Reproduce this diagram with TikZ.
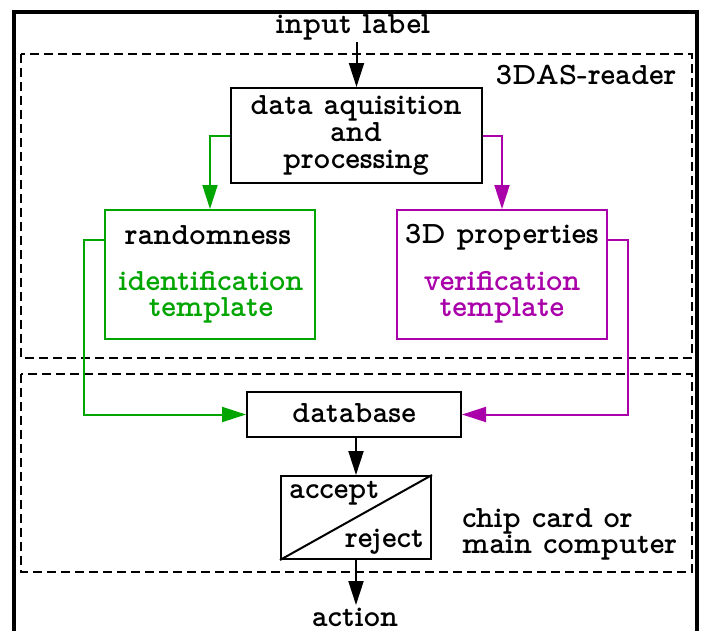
\documentclass[tikz,border=0pt]{standalone}
\usepackage{fontspec}
\newfontfamily\vttfont{lmmonoproplt10-bold.otf}
\usetikzlibrary{arrows.meta}
\definecolor{grn}{RGB}{0,165,0}
\definecolor{mag}{RGB}{170,0,170}
\tikzset{
  box/.style={draw, rectangle, line width=2pt, inner sep=0pt},
  txt/.style={inner sep=0pt, anchor=base},
  arr/.style={line width=2pt, -{Triangle[length=24pt,width=15pt]}},
  dbox/.style={draw, line width=2pt, dash pattern=on 9pt off 5pt},
}
\begin{document}
\begin{tikzpicture}[x=1pt,y=-1pt,font={\vttfont\fontsize{31}{32}\selectfont}]
\useasboundingbox (0,0) rectangle (702,630);
\fill[white] (0,0) rectangle (702,630);
% outer frame (open at bottom)
\draw[line width=3.5pt] (14,650) -- (14,12) -- (697,12) -- (697,650);
% dashed regions
\draw[dbox] (21,54) rectangle (692,358);
\draw[dbox] (21,374) rectangle (692,572);
% labels
\node[txt] (inlabel) at (353,33) {input label};
\node[txt] (reader) at (586,84) {3DAS-reader};
\node[txt, anchor=base west] (chip1) at (462,527) {chip card or};
\node[txt, anchor=base west] (chip2) at (462,553) {main computer};
\node[txt] (action) at (355,626) {action};
% boxes
\node[box, minimum width=251pt, minimum height=95pt] (data) at (356.5,135.5) {};
\node[txt] (d1) at (356,114) {data aquisition};
\node[txt] (d2) at (356,141) {and};
\node[txt] (d3) at (356,168) {processing};
\node[box, draw=grn, minimum width=210pt, minimum height=129pt] (rand) at (210,274.5) {};
\node[txt] (randt) at (208,244) {randomness};
\node[txt, text=grn] (randid1) at (211,290) {identification};
\node[txt, text=grn] (randid2) at (211,316) {template};
\node[box, draw=mag, minimum width=210pt, minimum height=129pt] (prop) at (502,274.5) {};
\node[txt] (propt) at (502,243) {3D properties};
\node[txt, text=mag] (propv1) at (502,290) {verification};
\node[txt, text=mag] (propv2) at (502,316) {template};
\node[box, minimum width=214pt, minimum height=45pt] (db) at (354,414.5) {};
\node[txt] (dbt) at (354,422) {database};
\node[box, minimum width=150pt, minimum height=83pt] (ar) at (356,517.5) {};
\draw[line width=2pt] (ar.south west) -- (ar.north east);
\node[txt, anchor=base west] (acc) at (289,498) {accept};
\node[txt, anchor=base east] (rej) at (424,547) {reject};
% connectors
\draw[arr] (data.north |- 0,42) -- (data.north);
\draw[arr, grn] (data.west) -| (rand.north);
\draw[arr, mag] (data.east) -| (prop.north);
\draw[arr, grn] ([yshift=35pt]rand.west) -- ++(-20,0) |- (db.west);
\draw[arr, mag] ([yshift=35pt]prop.east) -- ++(20,0) |- (db.east);
\draw[arr] (db.south -| ar.north) -- (ar.north);
\draw[arr] (ar.south) -- (ar.south |- 0,605);
\end{tikzpicture}
\end{document}
